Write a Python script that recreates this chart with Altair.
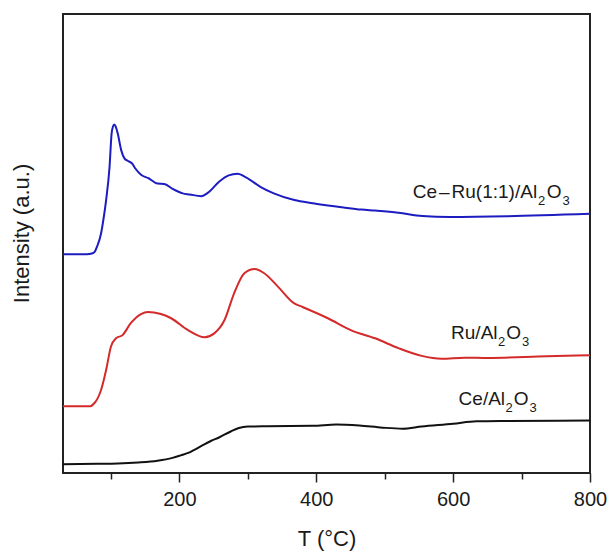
import altair as alt
import pandas as pd

# ---- data (T in °C, intensity in arbitrary units) ----
T_CERU = [30, 65, 72, 76, 80, 85.6, 89, 93, 98, 101, 103, 105, 107, 110, 115, 120, 125, 131, 136,
          144, 155, 168, 178, 190, 205, 215, 232, 242, 258, 272, 285, 298, 319, 338, 368, 395,
          440, 466, 486, 520, 555, 595, 680, 800]
I_CERU = [622, 622, 624, 628, 645, 681, 720, 776, 870, 965, 985, 991, 985, 965, 918, 894, 887, 880, 865,
          848, 838, 823, 822, 808, 795, 792, 787, 797, 828, 846, 851, 840, 813, 795, 776, 767,
          755, 749, 746, 740, 731, 728, 730, 737]

T_RU = [30, 70, 76, 80, 85.6, 93, 100, 107.5, 117, 129, 144, 154, 173, 188, 212, 237, 251, 266,
        280, 295, 310, 324, 344, 368, 380, 417, 452, 486, 520, 554, 583, 617, 651, 737, 800]
I_RU = [190, 190, 199, 210, 236, 293, 359, 383, 392, 426, 452, 458, 452, 440, 407, 386, 397, 435,
        511, 568, 580, 568, 530, 482, 472, 440, 405, 383, 355, 333, 325, 328, 327, 332, 335]

T_CE = [30, 80, 110, 140, 168, 190, 202, 213, 222, 235, 246, 258, 275, 287, 300, 330, 395,
        429, 463, 497, 526, 554, 600, 634, 680, 800]
I_CE = [25, 26, 27, 30, 35, 43, 50, 57, 66, 80, 91, 101, 118, 128, 132, 133, 134,
        138, 135, 129, 126, 132, 140, 147, 148, 149]

SERIES = ["Ce-Ru(1:1)/Al2O3", "Ru/Al2O3", "Ce/Al2O3"]
COLORS = ["#1c1cc0", "#d42a2a", "#111111"]

X_DOMAIN = [30, 800]
Y_DOMAIN = [0, 1305]
X_TICKS = [100, 200, 300, 400, 500, 600, 700, 800]

# curve labels: anchor (T, intensity) and pieces (text, font size, gap before, baseline shift)
LABEL_POS = [(541, 781), (597, 380), (608, 192)]
LABEL_PIECES = [
    [("Ce", 19, 0, 0), ("–", 19, 2, 0), ("Ru(1:1)/Al", 19, 2, 0), ("2", 13, 1, 7), ("O", 19, 1.5, 0), ("3", 13, 1, 7)],
    [("Ru/Al", 19, 0, 0), ("2", 13, 0.5, 7), ("O", 19, 1, 0), ("3", 13, 1, 7)],
    [("Ce/Al", 19, 0, 0), ("2", 13, 0.5, 7), ("O", 19, 1, 0), ("3", 13, 1, 7)],
]

# Arial / Liberation Sans advance widths (per 1000 em)
ADV = {'C': 722, 'e': 556, '–': 556, 'R': 722, 'u': 556, '(': 333, ')': 333, '1': 556,
       ':': 278, '/': 278, 'A': 667, 'l': 222, 'O': 778, '2': 556, '3': 556}

FONT = "Liberation Sans"
INK = "#1a1a1a"

rows = []
for name, ts, vs in zip(SERIES, [T_CERU, T_RU, T_CE], [I_CERU, I_RU, I_CE]):
    for t, v in zip(ts, vs):
        rows.append({"series": name, "T": t, "I": v})
curves = pd.DataFrame(rows)

x_scale = alt.Scale(domain=X_DOMAIN, nice=False, zero=False)
y_scale = alt.Scale(domain=Y_DOMAIN, nice=False, zero=False)

lines = alt.Chart(curves).mark_line(strokeWidth=2, interpolate="monotone").encode(
    x=alt.X("T:Q", scale=x_scale,
            axis=alt.Axis(values=X_TICKS, title="T (°C)",
                          labelExpr="datum.value % 200 === 0 ? datum.label : ''",
                          tickSize={"condition": {"test": "datum.value % 200 === 0", "value": 9}, "value": 6},
                          labelPadding=7, titlePadding=19, grid=False, domain=False,
                          labelFlush=False)),
    y=alt.Y("I:Q", scale=y_scale,
            axis=alt.Axis(title="Intensity (a.u.)", labels=False, ticks=False, domain=False,
                          grid=False, titlePadding=30, titleY=219)),
    color=alt.Color("series:N", scale=alt.Scale(domain=SERIES, range=COLORS), legend=None),
    order=alt.Order("T:Q"),
)

layers = [lines]
for (t, v), pieces in zip(LABEL_POS, LABEL_PIECES):
    off = 0.0
    for txt, size, gap, dy in pieces:
        off += gap
        piece = pd.DataFrame([{"T": t, "I": v, "text": txt}])
        layers.append(
            alt.Chart(piece).mark_text(align="left", baseline="alphabetic", font=FONT, color=INK,
                                       fontSize=size, dx=off, dy=dy).encode(
                x=alt.X("T:Q", scale=x_scale),
                y=alt.Y("I:Q", scale=y_scale),
                text="text:N",
            )
        )
        off += sum(ADV[c] for c in txt) * size / 1000.0

chart = alt.layer(*layers).properties(
    width=527, height=459,
    autosize=alt.AutoSizeParams(type="none"),
    padding={"left": 63, "top": 14, "right": 21, "bottom": 79},
    background="white",
).configure_view(
    stroke="#222222", strokeWidth=2,
).configure_axis(
    labelFont=FONT, titleFont=FONT, labelFontSize=20, titleFontSize=22,
    labelColor=INK, titleColor=INK, titleFontWeight="normal",
    tickColor="#222222", tickWidth=1.5,
)

chart.save("out.html", embed_options={"renderer": "svg", "actions": False})
